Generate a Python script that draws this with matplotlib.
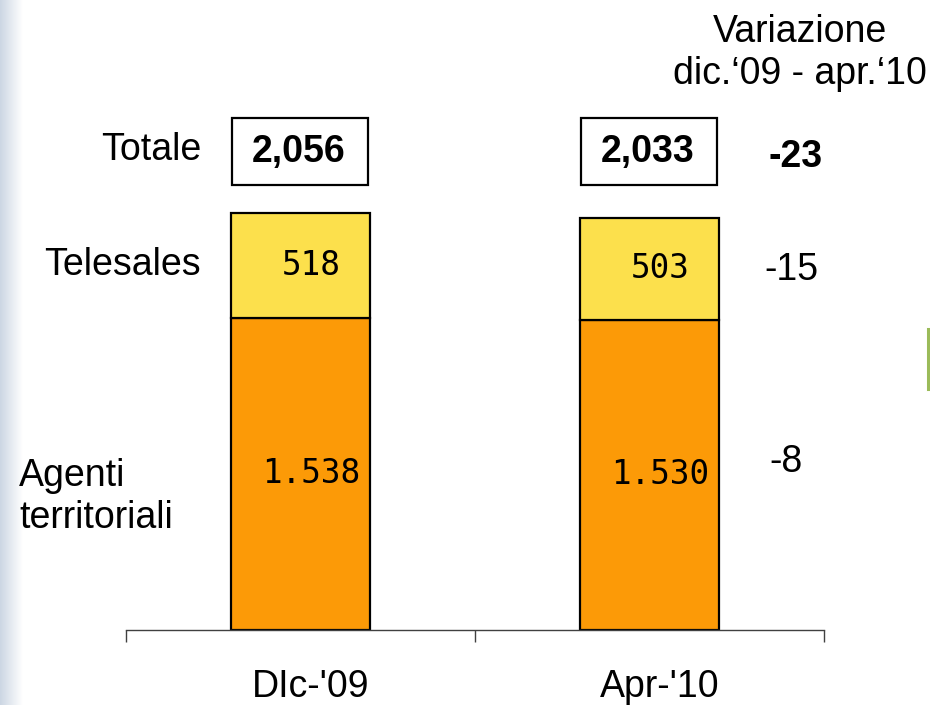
import numpy as np
import matplotlib
matplotlib.use("Agg")
import matplotlib.pyplot as plt
from matplotlib.patches import Rectangle
from matplotlib.lines import Line2D

# Data
periods = ["DIc-'09", "Apr-'10"]
agenti = [1538, 1530]
telesales = [518, 503]
agenti_labels = ["1.538", "1.530"]
telesales_labels = ["518", "503"]
totals = [a + t for a, t in zip(agenti, telesales)]
total_labels = ["2,056", "2,033"]
var_total = "-23"
var_telesales = "-15"
var_agenti = "-8"

W, H = 930, 705
fig = plt.figure(figsize=(W / 100, H / 100), dpi=100)
fig.patch.set_facecolor("white")

SANS = "Liberation Sans"
MONO = "DejaVu Sans Mono"
ORANGE = "#FC9A07"
YELLOW = "#FCE04C"
FS = 27


def px(x, y):
    return x / W, 1 - y / H


# Soft vertical band along the left edge
band = fig.add_axes([0, 0, 22 / W, 1])
grad = np.linspace(0, 1, 64)[None, :]
c0 = np.array([0.80, 0.84, 0.89])
c1 = np.array([1.0, 1.0, 1.0])
img = c0[None, None, :] * (1 - grad[..., None]) + c1[None, None, :] * grad[..., None]
img = np.repeat(img, 4, axis=0)
band.imshow(img, aspect="auto", extent=[0, 1, 0, 1])
band.axis("off")

# Main bar axes
ax = fig.add_axes([126 / W, 75 / H, 698 / W, 630 / H])
ax.set_xlim(-0.5, 1.5)
ax.set_ylim(0, 3105)
ax.patch.set_alpha(0)
for s in ["top", "right", "left"]:
    ax.spines[s].set_visible(False)
ax.spines["bottom"].set_color("#404040")
ax.spines["bottom"].set_linewidth(1.0)
ax.set_yticks([])
ax.set_xticks([-0.5, 0.5, 1.5])
ax.set_xticklabels([])
ax.tick_params(axis="x", direction="out", length=8.5, width=1.0, color="#404040")

x = np.arange(len(periods))
bw = 0.40
ax.bar(x, agenti, width=bw, color=ORANGE, edgecolor="black", linewidth=1.6, zorder=2)
ax.bar(x, telesales, width=bw, bottom=agenti, color=YELLOW, edgecolor="black",
       linewidth=1.6, zorder=2)

dx = 0.03
for i in range(len(periods)):
    ax.text(x[i] + dx, agenti[i] / 2, agenti_labels[i], ha="center", va="center",
            fontsize=23.5, family=MONO, color="black", zorder=3)
    ax.text(x[i] + dx, agenti[i] + telesales[i] / 2, telesales_labels[i], ha="center",
            va="center", fontsize=23.5, family=MONO, color="black", zorder=3)
    # Total box above the stack
    bx0 = x[i] - 0.195
    ax.add_patch(Rectangle((bx0, 2193), 0.387, 330, facecolor="white",
                           edgecolor="black", linewidth=1.6, clip_on=False))
    ax.text(x[i] - 0.005, 2193 + 165, total_labels[i], ha="center", va="center",
            fontsize=FS, family=SANS, fontweight="bold", color="black")
    ax.text(x[i] + dx, -330, periods[i], ha="center", va="baseline",
            fontsize=FS, family=SANS, color="black", clip_on=False)

# Row labels on the left
fig.text(*px(201, 150), "Totale", ha="right", va="center", fontsize=FS, family=SANS)
fig.text(*px(201, 265), "Telesales", ha="right", va="center", fontsize=FS, family=SANS)
fig.text(*px(19, 497), "Agenti\nterritoriali", ha="left", va="center", fontsize=FS,
         family=SANS, linespacing=1.22)

# Change column on the right
fig.text(*px(800, 53), "Variazione\ndic.\u201809 - apr.\u201810", ha="center", va="center",
         fontsize=FS, family=SANS, linespacing=1.22)
fig.text(*px(796, 157), var_total, ha="center", va="center", fontsize=FS, family=SANS,
         fontweight="bold")
fig.text(*px(791, 270), var_telesales, ha="center", va="center", fontsize=FS, family=SANS)
fig.text(*px(786, 462), var_agenti, ha="center", va="center", fontsize=FS, family=SANS)

# Small green accent at the right edge
fig.add_artist(Line2D([928 / W, 928 / W], [1 - 329 / H, 1 - 389 / H], color="#9BBB59",
                      linewidth=2.2, transform=fig.transFigure))

fig.savefig("out.png", dpi=100, facecolor="white")
